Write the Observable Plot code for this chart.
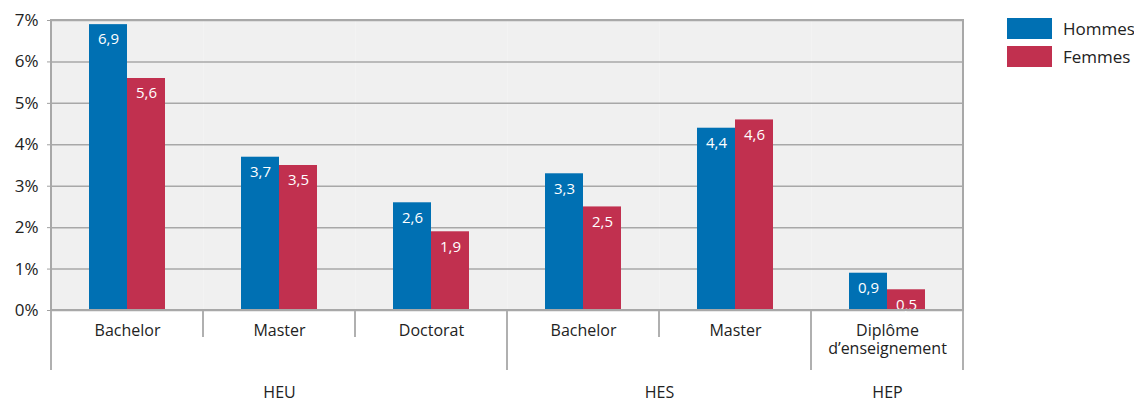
<!DOCTYPE html>
<html><head><meta charset="utf-8">
<script src="https://cdn.jsdelivr.net/npm/d3@7"></script>
<script src="https://cdn.jsdelivr.net/npm/@observablehq/plot@0.6"></script>
<style>
html,body{margin:0;padding:0;background:#fff;}
#chart{position:relative;width:1134px;height:403px;font-family:"Open Sans",sans-serif;}
#chart svg{display:block;}
#legend{position:absolute;left:1007px;top:18px;}
.item{display:flex;align-items:center;height:21px;margin-bottom:7px;font-size:17px;color:#222;white-space:nowrap;}
.sw{width:45px;height:21px;margin-right:11px;flex:none;}
</style></head><body><div id="chart"><div id="legend"></div></div>
<script>
// ---- data ----
const groups = ["HEU", "HEU", "HEU", "HES", "HES", "HEP"];
const categories = ["Bachelor", "Master", "Doctorat", "Bachelor", "Master", "Diplôme\nd’enseignement"];
const hommes = [6.9, 3.7, 2.6, 3.3, 4.4, 0.9];
const femmes = [5.6, 3.5, 1.9, 2.5, 4.6, 0.5];
const series = ["Hommes", "Femmes"];
const yTicks = [0, 1, 2, 3, 4, 5, 6, 7];
const colors = ["#0070b3", "#c1304f"];

const keys = categories.map((c, i) => groups[i] + "|" + c);
const data = keys.flatMap((k, i) => [
  {key: k, sex: series[0], value: hommes[i]},
  {key: k, sex: series[1], value: femmes[i]}
]);
const fmt = v => v.toFixed(1).replace(".", ",");

// group labels: centred across the facets of each group
const groupNames = Array.from(new Set(groups));
const centerLabels = [], edgeLabels = [];
for (const g of groupNames) {
  const idx = keys.filter((k, i) => groups[i] === g);
  if (idx.length % 2 === 1) centerLabels.push({key: idx[(idx.length - 1) / 2], group: g});
  else edgeLabels.push({key: idx[idx.length / 2 - 1], group: g});
}

const W = 1134, H = 403;
const plot = Plot.plot({
  width: W, height: H,
  marginLeft: 50, marginRight: 171, marginTop: 20, marginBottom: 93,
  style: {fontFamily: '"Open Sans", sans-serif', fontSize: "16px", color: "#222", background: "transparent"},
  fx: {domain: keys, padding: 0, label: null},
  x: {domain: series, paddingInner: 0, paddingOuter: 0.975, axis: null},
  y: {domain: [0, 7], label: null},
  color: {domain: series, range: colors},
  marks: [
    Plot.frame({fill: "#f0f0f0", stroke: "none"}),
    Plot.gridY(yTicks, {stroke: "#a8a8a8", strokeOpacity: 1, strokeWidth: 1.5}),
    Plot.barY(data, {fx: "key", x: "sex", y: "value", fill: "sex"}),
    Plot.text(data, {fx: "key", x: "sex", y: "value", text: d => fmt(d.value), dy: 15, fill: "white", fontSize: 15}),
    Plot.axisY({ticks: yTicks, tickFormat: d => d + "%", tickSize: 4, tickPadding: 9, stroke: "#a0a0a0", fontSize: 17, label: null}),
    Plot.axisFx({anchor: "bottom", tickSize: 0, tickPadding: 12, tickFormat: k => k.split("|")[1], label: null, fontSize: 16, lineHeight: 1.15}),
    Plot.text(centerLabels, {fx: "key", text: "group", frameAnchor: "bottom", textAnchor: "middle", lineAnchor: "top", dy: 76, fontSize: 16}),
    Plot.text(edgeLabels, {fx: "key", text: "group", frameAnchor: "bottom-right", textAnchor: "middle", lineAnchor: "top", dy: 76, fontSize: 16})
  ]
});

// separators below the plot + outer border, placed with Plot's own scales
const fxS = plot.scale("fx"), yS = plot.scale("y");
const y0 = yS.apply(0), y7 = yS.apply(7);
const svg = d3.select(plot);
const sep = svg.append("g").attr("stroke", "#b0b0b0").attr("stroke-width", 2);
keys.forEach((k, i) => {
  const x = fxS.apply(k);
  const long = i === 0 || groups[i] !== groups[i - 1];
  sep.append("line").attr("x1", x).attr("x2", x).attr("y1", y0).attr("y2", y0 + (long ? 60 : 27));
});
const xEnd = fxS.apply(keys[keys.length - 1]) + fxS.bandwidth;
sep.append("line").attr("x1", xEnd).attr("x2", xEnd).attr("y1", y0).attr("y2", y0 + 60);
svg.append("rect")
  .attr("x", fxS.apply(keys[0])).attr("y", y7)
  .attr("width", xEnd - fxS.apply(keys[0])).attr("height", y0 - y7)
  .attr("fill", "none").attr("stroke", "#a8a8a8").attr("stroke-width", 2);

document.getElementById("chart").prepend(plot);

// legend
const color = plot.scale("color");
const leg = d3.select("#legend");
color.domain.forEach((s, i) => {
  const it = leg.append("div").attr("class", "item");
  it.append("div").attr("class", "sw").style("background", color.range[i]);
  it.append("span").text(s);
});
</script>
</body></html>
